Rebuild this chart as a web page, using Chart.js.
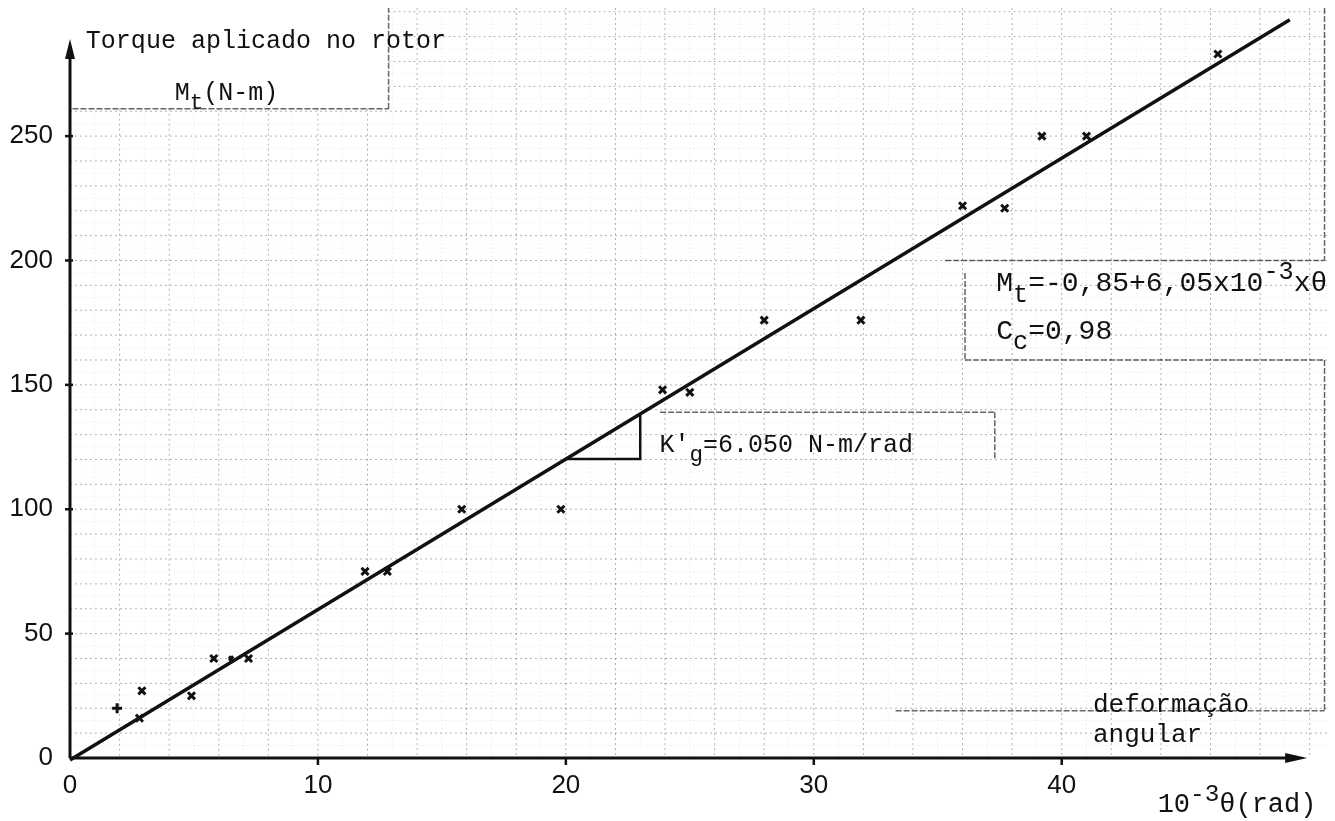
<!DOCTYPE html>
<html>
<head>
<meta charset="utf-8">
<script src="https://cdn.jsdelivr.net/npm/chart.js@4.4.1/dist/chart.umd.min.js"></script>
<style>
  html, body { margin: 0; padding: 0; background: #fff; }
  canvas { display: block; }
</style>
</head>
<body>
<canvas id="chart-1" width="1335" height="821"></canvas>
<script>
// measured points, theta in 10^-3 rad, torque in N-m
const thetaValues = [1.9, 2.8, 2.9, 4.9, 5.8, 6.5, 7.2, 11.9, 12.8, 15.8, 19.8, 23.9, 25.0, 28.0, 31.9, 36.0, 37.7, 39.2, 41.0, 46.3];
const torqueValues = [20, 16, 27, 25, 40, 40, 40, 75, 75, 100, 100, 148, 147, 176, 176, 222, 221, 250, 250, 283];
const pointShapes = ['cross', 'crossRot', 'crossRot', 'crossRot', 'crossRot', 'crossRot', 'crossRot', 'crossRot', 'crossRot', 'crossRot',
  'crossRot', 'crossRot', 'crossRot', 'crossRot', 'crossRot', 'crossRot', 'crossRot', 'crossRot', 'crossRot', 'crossRot'];
const pointSizes = [5, 5, 5, 5, 5, 3, 5, 5, 5, 5, 5, 5, 5, 5, 5, 5, 5, 5, 5, 5];

const xTickValues = [0, 10, 20, 30, 40];
const yTickValues = [0, 50, 100, 150, 200, 250];

// regression line Mt = -0,85 + 6,05 x theta
const fitIntercept = -0.85;
const fitSlope = 6.05;
const fitEnds = [0, 49.2];
const slopeLegs = [20, 23];

const fit = x => fitIntercept + fitSlope * x;

const INK = '#111';
const MONO = '"Liberation Mono", "DejaVu Sans Mono", monospace';
const SANS = '"Liberation Sans", Arial, sans-serif';
const Y_TOP = 301.5;

// bits of the graph paper edges that show in the scan (data units)
const paperEdges = [
  [[0.1, 261], [12.85, 261]], [[12.85, 261], [12.85, Y_TOP]],
  [[50.6, Y_TOP], [50.6, 200]], [[35.3, 200], [50.6, 200]],
  [[36.1, 195], [36.1, 160]], [[36.1, 160], [50.6, 160]],
  [[50.6, 160], [50.6, 19]], [[33.3, 19], [50.6, 19]],
  [[23.8, 139], [37.3, 139]], [[37.3, 139], [37.3, 120]]
];

function drawRich(ctx, parts, x, y, size) {
  let cx = x;
  parts.forEach(p => {
    const s = (p.sub || p.sup) ? size * 0.9 : size;
    ctx.font = s + 'px ' + MONO;
    const dy = p.sub ? size * 0.38 : p.sup ? -size * 0.42 : 0;
    ctx.fillText(p.t, cx, y + dy);
    cx += ctx.measureText(p.t).width;
  });
}

const paperPlugin = {
  id: 'paper',
  beforeDatasetsDraw(chart) {
    const { ctx, scales: { x, y } } = chart;
    ctx.save();
    ctx.lineWidth = 1;
    // minor lines
    ctx.strokeStyle = 'rgba(0,0,0,0.10)';
    ctx.setLineDash([1, 3]);
    for (let v = 1; v <= 50; v += 2) {
      const px = x.getPixelForValue(v);
      const top = v < 12.85 ? y.getPixelForValue(261) : y.top;
      ctx.beginPath(); ctx.moveTo(px, top); ctx.lineTo(px, y.bottom); ctx.stroke();
    }
    for (let v = 5; v <= 300; v += 10) {
      const py = y.getPixelForValue(v);
      const left = v > 261 ? x.getPixelForValue(12.85) : x.left;
      ctx.beginPath(); ctx.moveTo(left, py); ctx.lineTo(x.right, py); ctx.stroke();
    }
    // major lines
    ctx.strokeStyle = 'rgba(0,0,0,0.30)';
    ctx.setLineDash([2, 3]);
    for (let v = 2; v <= 50; v += 2) {
      const px = x.getPixelForValue(v);
      const top = v < 12.85 ? y.getPixelForValue(261) : y.top;
      ctx.beginPath(); ctx.moveTo(px, top); ctx.lineTo(px, y.bottom); ctx.stroke();
    }
    for (let v = 10; v <= 300; v += 10) {
      const py = y.getPixelForValue(v);
      const left = v > 261 ? x.getPixelForValue(12.85) : x.left;
      ctx.beginPath(); ctx.moveTo(left, py); ctx.lineTo(x.right, py); ctx.stroke();
    }
    // paper edges
    ctx.strokeStyle = 'rgba(0,0,0,0.6)';
    ctx.lineWidth = 1.5;
    ctx.setLineDash([6, 2]);
    paperEdges.forEach(([a, b]) => {
      ctx.beginPath();
      ctx.moveTo(x.getPixelForValue(a[0]), y.getPixelForValue(a[1]));
      ctx.lineTo(x.getPixelForValue(b[0]), y.getPixelForValue(b[1]));
      ctx.stroke();
    });
    ctx.restore();
  }
};

const axesPlugin = {
  id: 'axesAndText',
  afterDatasetsDraw(chart) {
    const { ctx, scales: { x, y } } = chart;
    const x0 = x.getPixelForValue(0), y0 = y.getPixelForValue(0);
    const xEnd = x.getPixelForValue(49.9), yEnd = y.getPixelForValue(289);
    ctx.save();
    ctx.strokeStyle = INK;
    ctx.fillStyle = INK;
    ctx.lineWidth = 3;
    ctx.beginPath();
    ctx.moveTo(x0, y0); ctx.lineTo(x0, yEnd + 10);
    ctx.moveTo(x0, y0); ctx.lineTo(xEnd - 12, y0);
    ctx.stroke();
    // arrow heads
    ctx.beginPath();
    ctx.moveTo(x0, yEnd); ctx.lineTo(x0 - 5, yEnd + 20); ctx.lineTo(x0 + 5, yEnd + 20); ctx.closePath();
    ctx.fill();
    ctx.beginPath();
    ctx.moveTo(xEnd, y0); ctx.lineTo(xEnd - 22, y0 - 5); ctx.lineTo(xEnd - 22, y0 + 5); ctx.closePath();
    ctx.fill();
    // tick marks
    ctx.lineWidth = 2.5;
    xTickValues.slice(1).forEach(v => {
      const px = x.getPixelForValue(v);
      ctx.beginPath(); ctx.moveTo(px, y0); ctx.lineTo(px, y0 + 7); ctx.stroke();
    });
    yTickValues.slice(1).forEach(v => {
      const py = y.getPixelForValue(v);
      ctx.beginPath(); ctx.moveTo(x0 - 5, py); ctx.lineTo(x0 + 3, py); ctx.stroke();
    });

    // labels
    ctx.textBaseline = 'alphabetic';
    ctx.textAlign = 'left';
    const at = (vx, vy) => [x.getPixelForValue(vx), y.getPixelForValue(vy)];
    let p;
    p = at(0.64, 285.6); drawRich(ctx, [{ t: 'Torque aplicado no rotor' }], p[0], p[1], 25);
    p = at(4.22, 264.7); drawRich(ctx, [{ t: 'M' }, { t: 't', sub: true }, { t: '(N-m)' }], p[0], p[1], 25);
    p = at(37.36, 187.7); drawRich(ctx, [{ t: 'M' }, { t: 't', sub: true }, { t: '=-0,85+6,05x10' }, { t: '-3', sup: true }, { t: 'xθ' }], p[0], p[1], 28);
    p = at(37.36, 168.5); drawRich(ctx, [{ t: 'C' }, { t: 'c', sub: true }, { t: '=0,98' }], p[0], p[1], 28);
    p = at(23.78, 123.1); drawRich(ctx, [{ t: "K'" }, { t: 'g', sub: true }, { t: '=6.050 N-m/rad' }], p[0], p[1], 25);
    p = at(41.26, 18.45); drawRich(ctx, [{ t: 'deformação' }], p[0], p[1], 26);
    p = at(41.26, 6.4); drawRich(ctx, [{ t: 'angular' }], p[0], p[1], 26);
    p = at(43.87, -21.7); drawRich(ctx, [{ t: '10' }, { t: '-3', sup: true }, { t: 'θ(rad)' }], p[0], p[1], 27);
    ctx.restore();
  }
};

new Chart(document.getElementById('chart-1'), {
  type: 'scatter',
  data: {
    datasets: [{
      label: 'medidas',
      data: thetaValues.map((t, i) => ({ x: t, y: torqueValues[i] })),
      pointStyle: pointShapes,
      pointRadius: pointSizes,
      borderColor: INK,
      backgroundColor: INK,
      pointBorderWidth: 3
    }, {
      label: 'ajuste',
      type: 'line',
      data: fitEnds.map(t => ({ x: t, y: fit(t) })),
      borderColor: INK,
      borderWidth: 3.5,
      pointRadius: 0,
      clip: false
    }, {
      label: 'inclinação',
      type: 'line',
      data: [
        { x: slopeLegs[0], y: fit(slopeLegs[0]) },
        { x: slopeLegs[1], y: fit(slopeLegs[0]) },
        { x: slopeLegs[1], y: fit(slopeLegs[1]) }
      ],
      borderColor: INK,
      borderWidth: 2.5,
      pointRadius: 0
    }]
  },
  options: {
    responsive: false,
    animation: false,
    devicePixelRatio: 1,
    layout: { padding: { left: 0, right: 3, top: 0, bottom: 0 } },
    plugins: { legend: { display: false }, tooltip: { enabled: false } },
    scales: {
      x: {
        type: 'linear',
        min: 0,
        max: 50.7,
        grid: { display: false, drawTicks: false },
        border: { display: false },
        afterBuildTicks: s => { s.ticks = xTickValues.map(v => ({ value: v })); },
        afterFit: s => { s.height = 63; s.paddingLeft = 0; s.paddingRight = 0; },
        ticks: { padding: 12, color: INK, font: { family: SANS, size: 26 }, maxRotation: 0 }
      },
      y: {
        type: 'linear',
        min: 0,
        max: Y_TOP,
        grid: { display: false, drawTicks: false },
        border: { display: false },
        afterBuildTicks: s => { s.ticks = yTickValues.map(v => ({ value: v })); },
        afterFit: s => { s.width = 70; s.paddingTop = 0; s.paddingBottom = 0; },
        ticks: { padding: 17, color: INK, font: { family: SANS, size: 26 } }
      }
    }
  },
  plugins: [paperPlugin, axesPlugin]
});
</script>
</body>
</html>
